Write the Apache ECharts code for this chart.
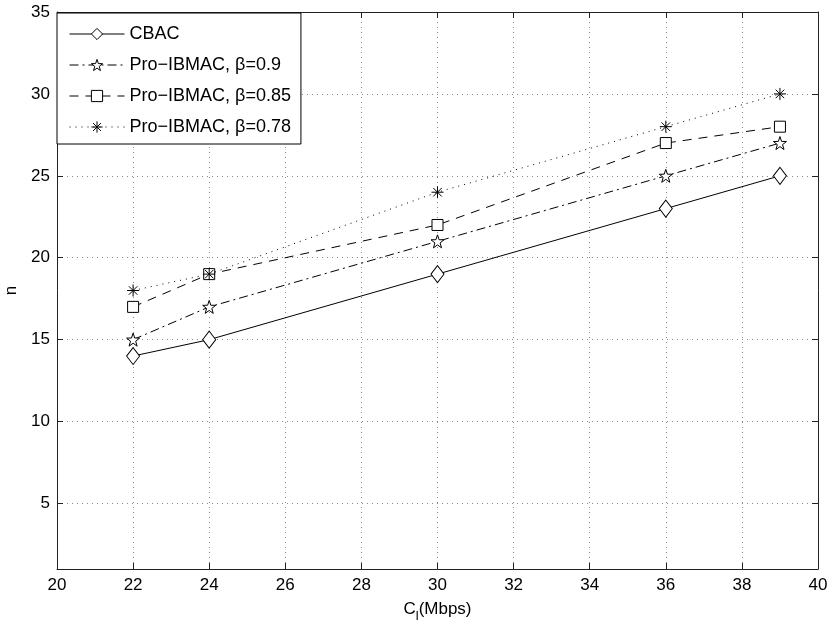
<!DOCTYPE html>
<html>
<head>
<meta charset="utf-8">
<script src="https://cdn.jsdelivr.net/npm/echarts@6/dist/echarts.min.js"></script>
<style>
  html, body { margin: 0; padding: 0; background: #fff; }
  #chart { width: 830px; height: 625px; }
</style>
</head>
<body>
<div id="chart"></div>
<script>
// Chart data
var capacity = [22, 24, 30, 36, 39];
var cbac = [14, 15, 19, 23, 25];
var beta090 = [15, 17, 21, 25, 27];
var beta085 = [17, 19, 22, 27, 28];
var beta078 = [18, 19, 24, 28, 30];
var seriesNames = ['CBAC', 'Pro\u2212IBMAC, \u03b2=0.9', 'Pro\u2212IBMAC, \u03b2=0.85', 'Pro\u2212IBMAC, \u03b2=0.78'];

var FONT = 'Liberation Sans';
var starPath = 'path://M0,-10L2.35,-3.24L9.51,-3.09L3.8,1.24L5.88,8.09L0,4L-5.88,8.09L-3.8,1.24L-9.51,-3.09L-2.35,-3.24Z';
var asteriskPath = 'path://M0,-10L0,10M-10,0L10,0M-7.07,-7.07L7.07,7.07M-7.07,7.07L7.07,-7.07';

function pairs(ys) {
  return capacity.map(function (x, i) { return [x, ys[i]]; });
}

function makeSeries(name, ys, symbol, size, dash, fill) {
  return {
    name: name,
    type: 'line',
    data: pairs(ys),
    symbol: symbol,
    symbolSize: size,
    showAllSymbol: true,
    lineStyle: { color: '#000', width: 1, type: dash },
    itemStyle: { color: fill, borderColor: '#000', borderWidth: 1 },
    emphasis: { disabled: true },
    z: 3
  };
}

var myChart = echarts.init(document.getElementById('chart'), null, { renderer: 'canvas' });

var gridLine = { show: true, lineStyle: { color: '#888', type: [1, 4], width: 1 } };
var frameLine = { show: true, lineStyle: { color: '#222', width: 1 } };
var inTick = { show: true, inside: true, length: 6, lineStyle: { color: '#222' } };

var option = {
  animation: false,
  backgroundColor: '#fff',
  textStyle: { fontFamily: FONT },
  grid: { left: 57, right: 12, top: 12, bottom: 56, containLabel: false, outerBoundsMode: 'none' },
  legend: {
    left: 57,
    top: 13,
    orient: 'vertical',
    data: seriesNames,
    itemWidth: 55,
    itemHeight: 14,
    itemGap: 13,
    padding: [12, 10, 8, 12],
    borderColor: '#000',
    borderWidth: 1,
    backgroundColor: '#fff',
    lineStyle: { width: 1 },
    itemStyle: { borderWidth: 1 },
    textStyle: { fontFamily: FONT, fontSize: 18, color: '#000' },
    selectedMode: false
  },
  xAxis: [{
    type: 'value',
    min: 20,
    max: 40,
    interval: 2,
    name: 'C{sub|l}(Mbps)',
    nameLocation: 'middle',
    nameGap: 27,
    nameTextStyle: {
      fontFamily: FONT, fontSize: 17, color: '#000',
      rich: { sub: { fontFamily: FONT, fontSize: 13, verticalAlign: 'bottom', padding: [14, 0, 0, 0], color: '#000' } }
    },
    axisLine: frameLine,
    axisTick: inTick,
    axisLabel: { fontFamily: FONT, fontSize: 17, color: '#000', margin: 8 },
    splitLine: gridLine
  }, {
    type: 'value',
    position: 'top',
    min: 20,
    max: 40,
    interval: 2,
    axisLine: frameLine,
    axisTick: inTick,
    axisLabel: { show: false },
    splitLine: { show: false }
  }],
  yAxis: [{
    type: 'value',
    min: 1,
    max: 35,
    minInterval: 5,
    maxInterval: 5,
    name: 'n',
    nameLocation: 'middle',
    nameGap: 36,
    nameTextStyle: { fontFamily: FONT, fontSize: 17, color: '#000' },
    axisLine: frameLine,
    axisTick: inTick,
    axisLabel: {
      fontFamily: FONT, fontSize: 17, color: '#000', margin: 7,
      formatter: function (v) { return v % 5 === 0 ? String(v) : ''; }
    },
    splitLine: gridLine
  }, {
    type: 'value',
    position: 'right',
    min: 1,
    max: 35,
    minInterval: 5,
    maxInterval: 5,
    axisLine: frameLine,
    axisTick: inTick,
    axisLabel: { show: false },
    splitLine: { show: false }
  }],
  series: [
    makeSeries(seriesNames[0], cbac, 'diamond', [13, 17], 'solid', '#fff'),
    makeSeries(seriesNames[1], beta090, starPath, 13, [9, 4, 2, 4], '#fff'),
    makeSeries(seriesNames[2], beta085, 'rect', 11, [9, 7], '#fff'),
    makeSeries(seriesNames[3], beta078, asteriskPath, 12, [1, 5], 'none')
  ]
};

myChart.setOption(option);
</script>
</body>
</html>
